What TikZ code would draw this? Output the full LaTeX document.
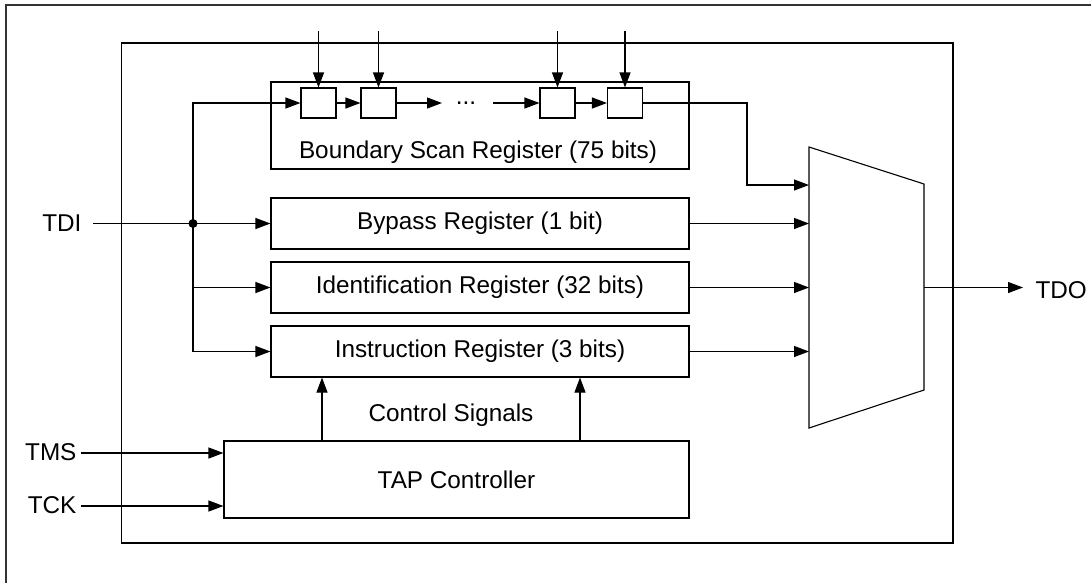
\documentclass[tikz,border=0pt]{standalone}
\usepackage{fontspec}
\setmainfont{Liberation Sans}
\usetikzlibrary{arrows.meta}
\begin{document}
\begin{tikzpicture}[x=1pt,y=-1pt,
  font=\fontsize{24.3}{28}\selectfont,
  line width=1.1pt,
  box/.style={draw, rectangle, inner sep=0pt, minimum width=418pt, minimum height=51pt},
  cell/.style={draw, rectangle, inner sep=0pt, minimum width=35pt, minimum height=30pt},
  pin/.style={inner sep=0pt},
  arr/.style={-{Triangle[length=15pt,width=11pt]}}]
\useasboundingbox (0,0) rectangle (1091,582);
\clip (0,0) rectangle (1091,582);
% frames
\draw[black!80, line width=1.5pt] (6,5) rectangle (1120,620);
\draw (121.7,43) rectangle (953,543);
% registers
\node[box, minimum height=87pt] (bsr) at (480,125.5) {};
\node[pin] (bsrtxt) at (478,152) {Boundary Scan Register (75 bits)};
\node[box] (byp) at (480,223.5) {Bypass Register (1 bit)};
\node[box] (idr) at (480,287.5) {Identification Register (32 bits)};
\node[box] (ir) at (480,351.5) {Instruction Register (3 bits)};
\node[box, minimum width=465pt, minimum height=77pt] (tap) at (456.5,479.5) {TAP Controller};
% cells
\node[cell] (c1) at (318.5,103) {};
\node[cell] (c2) at (378.5,103) {};
\node[cell] (c3) at (557.5,103) {};
\node[cell] (c4) at (625,103) {};
\coordinate (t1) at (318.5,31);
\coordinate (t2) at (378.5,31);
\coordinate (t3) at (557.5,31);
\coordinate (t4) at (625,31);
\draw[arr] (t1) -- (c1.north);
\draw[arr] (t2) -- (c2.north);
\draw[arr] (t3) -- (c3.north);
\draw[arr] (t4) -- (c4.north);
% chain
\coordinate (dotsL) at (442,103);
\coordinate (dotsR) at (493,103);
\node[pin, anchor=base] (dots) at (466,104.5) {...};
\draw[arr] (c1.east) -- (c2.west);
\draw[arr] (c2.east) -- (dotsL);
\draw[arr] (dotsR) -- (c3.west);
\draw[arr] (c3.east) -- (c4.west);
% mux
\coordinate (m1) at (809,147);
\coordinate (m2) at (924,184);
\coordinate (m3) at (924,390);
\coordinate (m4) at (809,428);
\draw (m1) -- (m2) -- (m3) -- (m4) -- cycle;
\coordinate (bend) at (747,185);
\draw[arr] (c4.east) -| (bend) -- (bend -| m1);
\draw[arr] (byp.east) -- (byp.east -| m1);
\draw[arr] (idr.east) -- (idr.east -| m1);
\draw[arr] (ir.east) -- (ir.east -| m1);
% TDO
\coordinate (mo) at (924,287.5);
\coordinate (tdoE) at (1023,287.5);
\node[pin, anchor=west] (tdo) at (1035,290) {TDO};
\draw[arr] (mo) -- (tdoE);
% TDI
\node[pin, anchor=east] (tdi) at (82,223.5) {TDI};
\coordinate (tdiS) at (93,223.5);
\coordinate (j) at (193,223.5);
\draw[arr] (tdiS) -- (byp.west);
\draw[arr] (j) |- (c1.west);
\draw[arr] (j) |- (idr.west);
\draw[arr] (j) |- (ir.west);
\fill (j) circle (4.5pt);
% control signals
\coordinate (cs1) at (322,441);
\coordinate (cs2) at (580,441);
\draw[arr] (cs1) -- (cs1 |- ir.south);
\draw[arr] (cs2) -- (cs2 |- ir.south);
\node[pin] (cslbl) at (451,415) {Control Signals};
% TMS / TCK
\node[pin, anchor=east] (tms) at (77,452) {TMS};
\node[pin, anchor=east] (tck) at (77,505) {TCK};
\coordinate (tmsS) at (81,453);
\coordinate (tckS) at (81,506);
\draw[arr] (tmsS) -- (tmsS -| tap.west);
\draw[arr] (tckS) -- (tckS -| tap.west);
\end{tikzpicture}
\end{document}
